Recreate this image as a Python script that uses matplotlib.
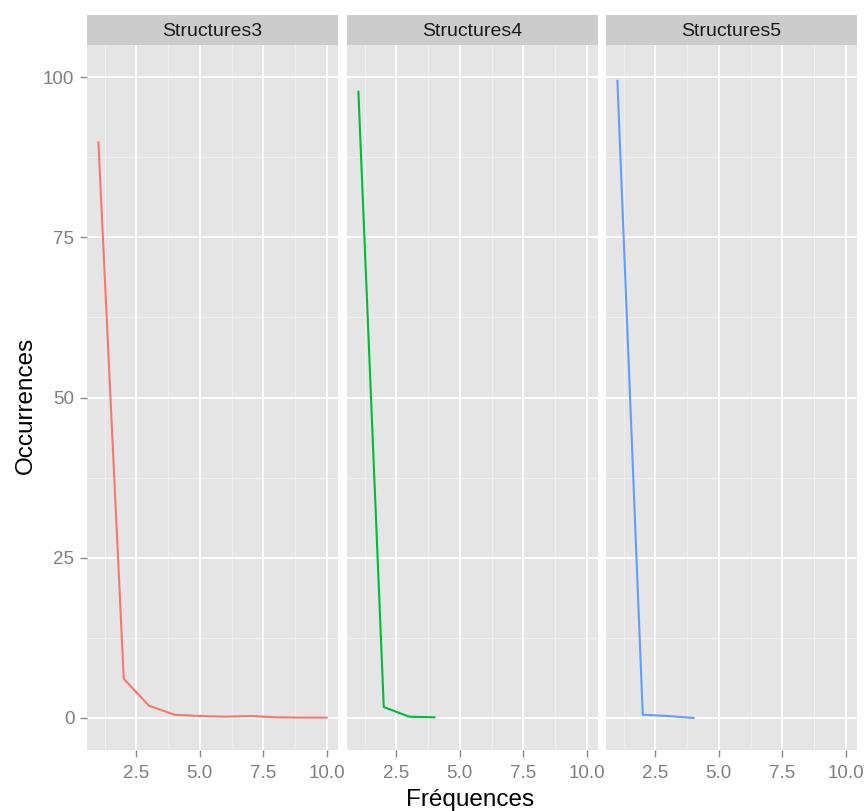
import matplotlib
matplotlib.use("Agg")
import matplotlib.pyplot as plt
import numpy as np

plt.rcParams['font.family'] = ['Liberation Sans', 'DejaVu Sans']

panels = ["Structures3", "Structures4", "Structures5"]
colors = ["#F8766D", "#00BA38", "#619CFF"]
x3 = [1, 2, 3, 4, 5, 6, 7, 8, 9, 10]
y3 = [89.8, 6.1, 1.9, 0.5, 0.3, 0.2, 0.3, 0.1, 0.05, 0.05]
x4 = [1, 2, 3, 4]
y4 = [97.7, 1.7, 0.2, 0.1]
x5 = [1, 2, 3, 4]
y5 = [99.4, 0.5, 0.3, 0.0]
xs = [x3, x4, x5]
ys = [y3, y4, y5]
xticks = [2.5, 5.0, 7.5, 10.0]
yticks = [0, 25, 50, 75, 100]

W, H = 864, 811
fig = plt.figure(figsize=(W/100, H/100), dpi=100)
lefts = [87, 347, 606]
pw = 251
top_strip, bot_strip, bot_plot = 15, 45, 750
tick_fs = 13.5
tick_col = "#7F7F7F"

for i in range(3):
    ax = fig.add_axes([lefts[i]/W, 1 - bot_plot/H, pw/W, (bot_plot - bot_strip)/H])
    ax.set_facecolor("#E5E5E5")
    ax.set_xlim(0.55, 10.45)
    ax.set_ylim(-5, 105)
    for v in [1.25, 3.75, 6.25, 8.75]:
        ax.axvline(v, color="#F2F2F2", lw=0.6, zorder=1)
    for v in [12.5, 37.5, 62.5, 87.5]:
        ax.axhline(v, color="#F2F2F2", lw=0.6, zorder=1)
    for v in xticks:
        ax.axvline(v, color="white", lw=1.3, zorder=1)
    for v in yticks:
        ax.axhline(v, color="white", lw=1.3, zorder=1)
    ax.plot(xs[i], ys[i], color=colors[i], lw=1.5, zorder=3)
    for s in ax.spines.values():
        s.set_visible(False)
    ax.set_xticks(xticks)
    ax.set_xticklabels([f"{t:.1f}" for t in xticks])
    ax.tick_params(axis="x", colors="#8A8A8A", labelcolor=tick_col, labelsize=tick_fs, length=5, width=1.0, pad=6)
    ax.set_yticks(yticks)
    if i == 0:
        ax.set_yticklabels([str(t) for t in yticks])
        ax.tick_params(axis="y", colors="#8A8A8A", labelcolor=tick_col, labelsize=tick_fs, length=5, width=1.0, pad=4)
    else:
        ax.tick_params(axis="y", length=0, labelleft=False)
    # strip
    sax = fig.add_axes([lefts[i]/W, 1 - bot_strip/H, pw/W, (bot_strip - top_strip)/H])
    sax.set_facecolor("#CCCCCC")
    sax.set_xticks([]); sax.set_yticks([])
    for s in sax.spines.values():
        s.set_visible(False)
    sax.text(0.5, 0.5, panels[i], ha="center", va="center_baseline", fontsize=14, color="#1A1A1A", transform=sax.transAxes)

fig.text(32/W, 1 - 405/H, "Occurrences", rotation=90, rotation_mode="anchor", ha="center", va="baseline", fontsize=17.5, color="black")
fig.text(470/W, 1 - 806/H, "Fréquences", ha="center", va="baseline", fontsize=17.5, color="black")

fig.savefig("out.png", dpi=100)
